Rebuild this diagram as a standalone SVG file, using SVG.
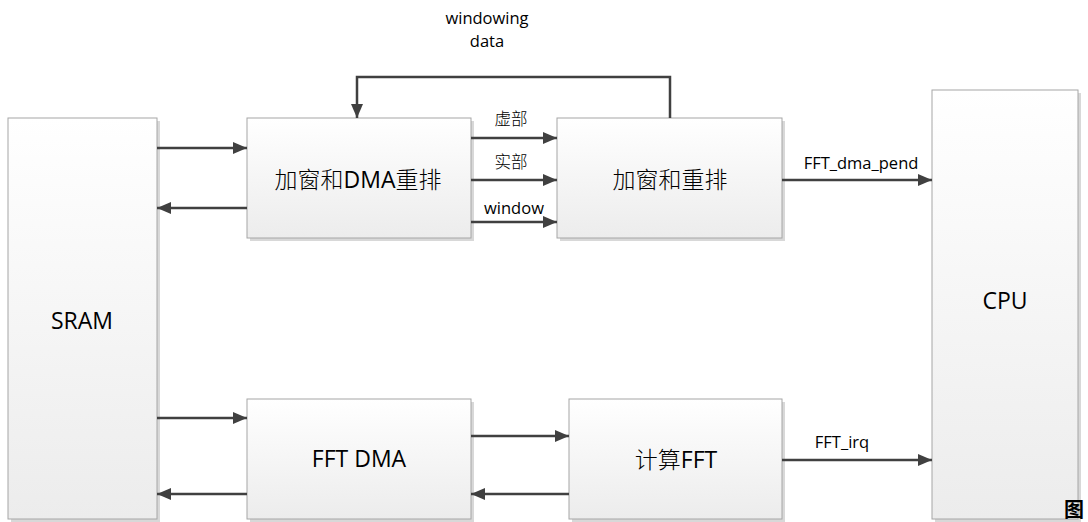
<svg xmlns="http://www.w3.org/2000/svg" width="1088" height="522" viewBox="0 0 1088 522">
<defs>
<linearGradient id="g" x1="0" y1="0" x2="0" y2="1">
<stop offset="0" stop-color="#ffffff"/>
<stop offset="1" stop-color="#ececec"/>
</linearGradient>
<marker id="a" markerWidth="14" markerHeight="12" refX="14" refY="6" orient="auto" markerUnits="userSpaceOnUse">
<path d="M0,0 L14,6 L0,12 Z" fill="#404040"/>
</marker>
</defs>
<style>
.box{fill:url(#g);stroke:#a6a6a6;stroke-width:1}
.sh{fill:#d8d8d8}
.c{stroke:#404040;stroke-width:2.5;fill:none;marker-end:url(#a)}
.lbl{font-family:"Open Sans","Noto Sans CJK SC",sans-serif;font-size:16.5px;fill:#000}
.big{font-family:"Open Sans","Noto Sans CJK SC",sans-serif;font-size:23px;fill:#000}
.zh{font-weight:300}
</style>
<rect width="1088" height="522" fill="#fff"/>
<g id="sram"><rect class="sh" x="11" y="121" width="149" height="401"/><rect class="box" x="8" y="118" width="149" height="401"/><text class="big" x="82" y="329" text-anchor="middle" font-size="20">SRAM</text></g>
<g id="win_dma"><rect class="sh" x="250" y="121" width="224" height="120"/><rect class="box" x="247" y="118" width="224" height="120"/><text class="big" x="358" y="188" text-anchor="middle"><tspan class="zh">加窗和</tspan>DMA<tspan class="zh">重排</tspan></text></g>
<g id="win"><rect class="sh" x="560" y="121" width="225" height="120"/><rect class="box" x="557" y="118" width="225" height="120"/><text class="big zh" x="670" y="188" text-anchor="middle">加窗和重排</text></g>
<g id="cpu"><rect class="sh" x="935" y="93" width="146" height="429"/><rect class="box" x="932" y="90" width="146" height="429"/><text class="big" x="1005" y="309" text-anchor="middle" font-size="20">CPU</text></g>
<g id="fftdma"><rect class="sh" x="250" y="402" width="224" height="120"/><rect class="box" x="247" y="399" width="224" height="120"/><text class="big" x="359" y="467" text-anchor="middle" font-size="21">FFT DMA</text></g>
<g id="calc"><rect class="sh" x="572" y="402" width="213" height="120"/><rect class="box" x="569" y="399" width="213" height="120"/><text class="big" x="676" y="468" text-anchor="middle"><tspan class="zh">计算</tspan>FFT</text></g>
<g id="connectors">
<line class="c" x1="157" y1="148" x2="247" y2="148"/>
<line class="c" x1="247" y1="208" x2="157" y2="208"/>
<line class="c" x1="471" y1="138" x2="557" y2="138"/>
<line class="c" x1="471" y1="180" x2="557" y2="180"/>
<line class="c" x1="471" y1="222" x2="557" y2="222"/>
<polyline class="c" points="670,118 670,77 357,77 357,118"/>
<line class="c" x1="782" y1="180" x2="932" y2="180"/>
<line class="c" x1="157" y1="418" x2="247" y2="418"/>
<line class="c" x1="247" y1="494" x2="157" y2="494"/>
<line class="c" x1="471" y1="436" x2="569" y2="436"/>
<line class="c" x1="569" y1="494" x2="471" y2="494"/>
<line class="c" x1="782" y1="460" x2="932" y2="460"/>
<text class="lbl" x="487" y="24" text-anchor="middle">windowing</text>
<text class="lbl" x="487" y="47" text-anchor="middle">data</text>
<text class="lbl zh" x="511" y="125" text-anchor="middle">虚部</text>
<text class="lbl zh" x="511" y="168" text-anchor="middle">实部</text>
<text class="lbl" x="514" y="214" text-anchor="middle">window</text>
<text class="lbl" x="861" y="169" text-anchor="middle">FFT_dma_pend</text>
<text class="lbl" x="842" y="448" text-anchor="middle">FFT_irq</text>
</g>
<text x="1064" y="517" font-family="'Noto Sans CJK SC',sans-serif" font-size="20" font-weight="bold" fill="#000">图</text>
</svg>
